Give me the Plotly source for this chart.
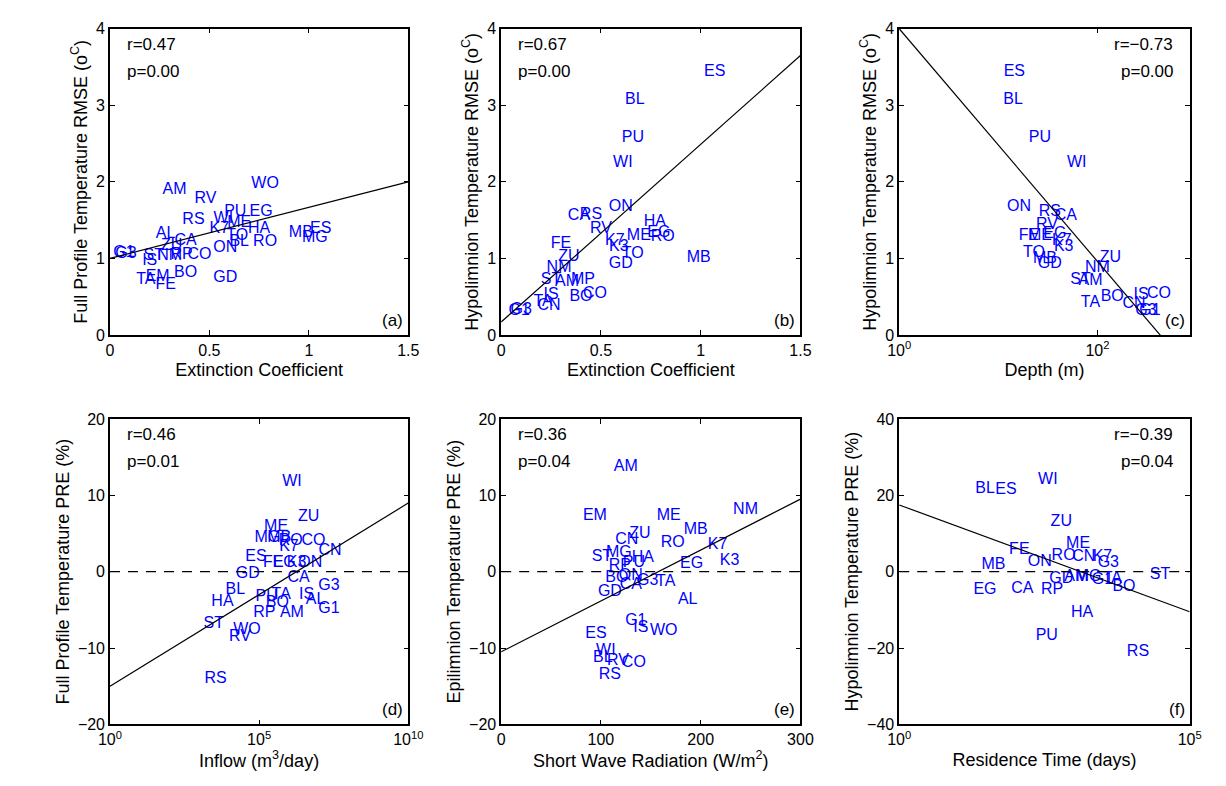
import numpy as np
import plotly.graph_objects as go

FONT = "Liberation Sans"
BLUE = "#0000ff"

# (a) full profile RMSE vs extinction coefficient
a_lab = ["AM", "RV", "WO", "RS", "PU", "EG", "WI", "K7", "ME", "HA", "TO", "BL", "RO", "ON", "AL",
         "CA", "ZU", "MB", "ES", "MG", "G3", "G1", "ST", "IS", "NM", "RP", "CO", "TA", "EM", "FE",
         "BO", "GD"]
a_x = [0.325, 0.48, 0.78, 0.42, 0.63, 0.76, 0.57, 0.55, 0.65, 0.75, 0.64, 0.65, 0.78, 0.58, 0.28,
       0.38, 0.31, 0.96, 1.06, 1.03, 0.08, 0.07, 0.22, 0.20, 0.30, 0.36, 0.45, 0.18, 0.24, 0.28,
       0.38, 0.58]
a_y = [1.89, 1.78, 1.97, 1.50, 1.60, 1.60, 1.52, 1.38, 1.46, 1.39, 1.29, 1.21, 1.21, 1.14, 1.32,
       1.23, 1.16, 1.33, 1.38, 1.27, 1.06, 1.07, 1.03, 0.97, 1.03, 1.05, 1.05, 0.72, 0.76, 0.65,
       0.81, 0.74]

# (b) hypolimnion RMSE vs extinction coefficient
b_lab = ["ES", "BL", "PU", "WI", "ON", "RS", "CA", "RV", "HA", "ME", "EG", "RO", "K7", "K3", "TO",
         "GD", "MB", "FE", "ZU", "NM", "ST", "AM", "MP", "IS", "TA", "CN", "BO", "CO", "G3", "G1"]
b_x = [1.07, 0.67, 0.66, 0.61, 0.60, 0.45, 0.39, 0.50, 0.77, 0.69, 0.79, 0.81, 0.57, 0.59, 0.66,
       0.60, 0.99, 0.30, 0.34, 0.29, 0.25, 0.33, 0.41, 0.25, 0.21, 0.24, 0.40, 0.47, 0.10, 0.09]
b_y = [3.44, 3.07, 2.57, 2.24, 1.67, 1.57, 1.55, 1.39, 1.47, 1.29, 1.33, 1.28, 1.23, 1.15, 1.06,
       0.93, 1.00, 1.19, 1.02, 0.88, 0.72, 0.69, 0.72, 0.52, 0.43, 0.38, 0.49, 0.54, 0.32, 0.31]

# (c) hypolimnion RMSE vs depth (m)
c_lab = ["ES", "BL", "PU", "WI", "ON", "RS", "CA", "RV", "FE", "ME", "EG", "K7", "K3", "TO", "MB",
         "GD", "ZU", "NM", "ST", "AM", "TA", "BO", "IS", "CO", "CN", "G3", "G1"]
c_x = [14.5, 14.1, 26.3, 61.7, 16.2, 33.1, 47.9, 30.9, 20.4, 26.3, 37.2, 43.7, 45.7, 22.9, 29.5,
       33.1, 135, 100, 67.6, 85.1, 85.1, 141, 275, 417, 234, 309, 339]
c_y = [3.44, 3.07, 2.57, 2.24, 1.67, 1.60, 1.56, 1.44, 1.29, 1.29, 1.32, 1.23, 1.15, 1.07, 0.99,
       0.93, 1.01, 0.88, 0.72, 0.71, 0.42, 0.49, 0.52, 0.54, 0.40, 0.31, 0.31]

# (d) full profile PRE vs inflow (m3/day)
d_lab = ["WI", "ZU", "ME", "MG", "MB", "RO", "CO", "K7", "CN", "ES", "FE", "EG", "K3", "ON", "GD",
         "CA", "BL", "G3", "PU", "TA", "IS", "AL", "BO", "HA", "G1", "RP", "AM", "ST", "WO", "RV",
         "RS"]
d_x = [1.26e6, 4.6e6, 3.7e5, 1.9e5, 4.7e5, 1.15e6, 6.6e6, 1.0e6, 2.4e7, 7.8e4, 3.0e5, 6.9e5,
       1.8e6, 5.2e6, 4.2e4, 2.1e6, 1.6e4, 2.2e7, 1.8e5, 5.5e5, 3.9e6, 7.8e6, 4.1e5, 5.9e3, 2.2e7,
       1.5e5, 1.26e6, 3.0e3, 3.9e4, 2.3e4, 3.5e3]
d_y = [11.7, 7.2, 5.8, 4.4, 4.4, 4.0, 4.0, 3.2, 2.7, 1.9, 1.2, 1.2, 1.2, 1.2, -0.3, -0.8, -2.4,
       -1.9, -3.3, -3.1, -3.1, -3.7, -4.1, -4.0, -4.9, -5.4, -5.4, -6.9, -7.7, -8.5, -14.1]

# (e) epilimnion PRE vs short wave radiation (W/m2)
e_lab = ["AM", "EM", "ME", "NM", "MB", "K7", "K3", "ZU", "CN", "RO", "ST", "MG", "HA", "PU", "RP",
         "EG", "BO", "ON", "G3", "TA", "CA", "GD", "AL", "G1", "IS", "WO", "ES", "WI", "BL", "RV",
         "CO", "RS"]
e_x = [125, 94, 168, 245, 195, 217, 229, 139, 126, 172, 101, 118, 142, 133, 119, 191, 116, 130,
       147, 165, 130, 109, 187, 135, 140, 163, 95, 105, 102, 117, 133, 109]
e_y = [13.7, 7.3, 7.3, 8.1, 5.5, 3.5, 1.4, 5.0, 4.1, 3.7, 1.9, 2.4, 1.8, 1.2, 0.8, 1.0, -0.8,
       -0.6, -1.2, -1.3, -1.8, -2.7, -3.7, -6.4, -7.4, -7.8, -8.1, -10.4, -11.3, -11.7, -11.9,
       -13.6]

# (f) hypolimnion PRE vs residence time (days)
f_lab = ["BL", "ES", "WI", "ZU", "FE", "ON", "MB", "EG", "CA", "RP", "HA", "PU", "RS", "ST", "BO",
         "ME", "RO", "CN", "K7", "G3", "GD", "AM", "MG", "G1", "TA"]
f_x = [30, 69, 363, 617, 117, 263, 42, 30, 132, 427, 1410, 347, 12900, 30900, 7400, 1200, 676,
       1510, 3160, 3980, 617, 1120, 1820, 3160, 4680]
f_y = [21.8, 21.3, 24.1, 13.1, 5.6, 2.6, 1.8, -4.9, -4.6, -4.9, -10.8, -16.9, -21.0, -0.8, -4.1,
       7.2, 4.1, 3.8, 3.8, 2.3, -1.8, -1.3, -1.3, -2.3, -1.8]

# regression lines: intercept, slope (slope per unit x, or per decade for log axes)
fit_intercept = [1.0, 0.17, 4.0, -15.0, -10.5, 17.5]
fit_slope = [0.667, 2.32, -1.52, 2.4, 0.0667, -5.6]
r_text = ["r=0.47", "r=0.67", "r=\u22120.73", "r=0.46", "r=0.36", "r=\u22120.39"]
p_text = ["p=0.00", "p=0.00", "p=0.00", "p=0.01", "p=0.04", "p=0.04"]

W, H = 1226, 786
cols = [(92, 397), (492, 798), (899, 1196)]
rows = [(13, 326), (412, 724)]

panels = [
    dict(lab=a_lab, x=a_x, y=a_y, log=False, xr=[0, 1.5], yr=[0, 4], xt=[0, 0.5, 1, 1.5],
         xtt=["0", "0.5", "1", "1.5"], yt=[0, 1, 2, 3, 4], xtitle="Extinction Coefficient",
         ytitle="Full Profile Temperature RMSE (o<sup>C</sup>)", zero=False, rp="left"),
    dict(lab=b_lab, x=b_x, y=b_y, log=False, xr=[0, 1.5], yr=[0, 4], xt=[0, 0.5, 1, 1.5],
         xtt=["0", "0.5", "1", "1.5"], yt=[0, 1, 2, 3, 4], xtitle="Extinction Coefficient",
         ytitle="Hypolimnion Temperature RMSE (o<sup>C</sup>)", zero=False, rp="left"),
    dict(lab=c_lab, x=c_x, y=c_y, log=True, xr=[0, 2.93], yr=[0, 4], xt=[1, 100],
         xtt=["10<sup>0</sup>", "10<sup>2</sup>"], yt=[0, 1, 2, 3, 4], xtitle="Depth (m)",
         ytitle="Hypolimnion Temperature RMSE (o<sup>C</sup>)", zero=False, rp="right"),
    dict(lab=d_lab, x=d_x, y=d_y, log=True, xr=[0, 10], yr=[-20, 20], xt=[1, 1e5, 1e10],
         xtt=["10<sup>0</sup>", "10<sup>5</sup>", "10<sup>10</sup>"], yt=[-20, -10, 0, 10, 20],
         xtitle="Inflow (m<sup>3</sup>/day)", ytitle="Full Profile Temperature PRE (%)",
         zero=True, rp="left"),
    dict(lab=e_lab, x=e_x, y=e_y, log=False, xr=[0, 300], yr=[-20, 20], xt=[0, 100, 200, 300],
         xtt=["0", "100", "200", "300"], yt=[-20, -10, 0, 10, 20],
         xtitle="Short Wave Radiation (W/m<sup>2</sup>)", ytitle="Epilimnion Temperature PRE (%)",
         zero=True, rp="left"),
    dict(lab=f_lab, x=f_x, y=f_y, log=True, xr=[0, 5], yr=[-40, 40], xt=[1, 1e5],
         xtt=["10<sup>0</sup>", "10<sup>5</sup>"], yt=[-40, -20, 0, 20, 40],
         xtitle="Residence Time (days)", ytitle="Hypolimnion Temperature PRE (%)",
         zero=True, rp="right"),
]

fig = go.Figure()
for i, p in enumerate(panels):
    n = i + 1
    xa = "x" if n == 1 else f"x{n}"
    ya = "y" if n == 1 else f"y{n}"
    c0, c1 = cols[i % 3]
    r0, r1 = rows[i // 3]

    fig.add_trace(go.Scatter(x=p["x"], y=p["y"], text=p["lab"], mode="text",
                             textfont=dict(family=FONT, size=16, color=BLUE),
                             xaxis=xa, yaxis=ya, showlegend=False, hoverinfo="text"))

    lo, hi = p["xr"]
    if p["log"]:
        xs = np.array([10 ** lo, 10 ** hi])
        ys = fit_intercept[i] + fit_slope[i] * np.log10(xs)
    else:
        xs = np.array([lo, hi])
        ys = fit_intercept[i] + fit_slope[i] * xs
    fig.add_trace(go.Scatter(x=xs, y=ys, mode="lines", line=dict(color="black", width=1.2),
                             xaxis=xa, yaxis=ya, showlegend=False, hoverinfo="skip",
                             cliponaxis=True))
    if p["zero"]:
        zx = [10 ** lo, 10 ** hi] if p["log"] else [lo, hi]
        fig.add_trace(go.Scatter(x=zx, y=[0, 0], mode="lines",
                                 line=dict(color="black", width=1.2, dash="10px,8px"),
                                 xaxis=xa, yaxis=ya, showlegend=False, hoverinfo="skip"))

    axis_common = dict(showline=True, linecolor="black", linewidth=1.5, mirror="ticks",
                       ticks="inside", ticklen=5, tickcolor="black", showgrid=False,
                       zeroline=False, tickfont=dict(family=FONT, size=16, color="black"))
    fig.layout[f"xaxis{n if n > 1 else ''}"] = dict(
        axis_common, domain=[c0 / W, c1 / W], anchor=ya,
        type="log" if p["log"] else "linear", range=p["xr"], tickvals=p["xt"], ticktext=p["xtt"],
        title=dict(text=p["xtitle"], font=dict(family=FONT, size=18, color="black"), standoff=6))
    fig.layout[f"yaxis{n if n > 1 else ''}"] = dict(
        axis_common, domain=[1 - r1 / H, 1 - r0 / H], anchor=xa, range=p["yr"],
        tickvals=p["yt"],
        title=dict(text=p["ytitle"], font=dict(family=FONT, size=18, color="black"), standoff=4))

    xref = f"{xa} domain"
    yref = f"{ya} domain"
    left = p["rp"] == "left"
    fig.add_annotation(x=0.05 if left else 0.95, y=0.95, xref=xref, yref=yref, text=r_text[i],
                       showarrow=False, xanchor="left" if left else "right", yanchor="middle",
                       font=dict(family=FONT, size=17, color="black"))
    fig.add_annotation(x=0.05 if left else 0.95, y=0.86, xref=xref, yref=yref, text=p_text[i],
                       showarrow=False, xanchor="left" if left else "right", yanchor="middle",
                       font=dict(family=FONT, size=17, color="black"))
    fig.add_annotation(x=0.99, y=0.01, xref=xref, yref=yref, text="(" + "abcdef"[i] + ")",
                       showarrow=False, xanchor="right", yanchor="bottom",
                       font=dict(family=FONT, size=17, color="black"))

fig.update_layout(width=W, height=H, margin=dict(l=0, r=0, t=0, b=0),
                  plot_bgcolor="white", paper_bgcolor="white")

fig.write_html("out.html")
